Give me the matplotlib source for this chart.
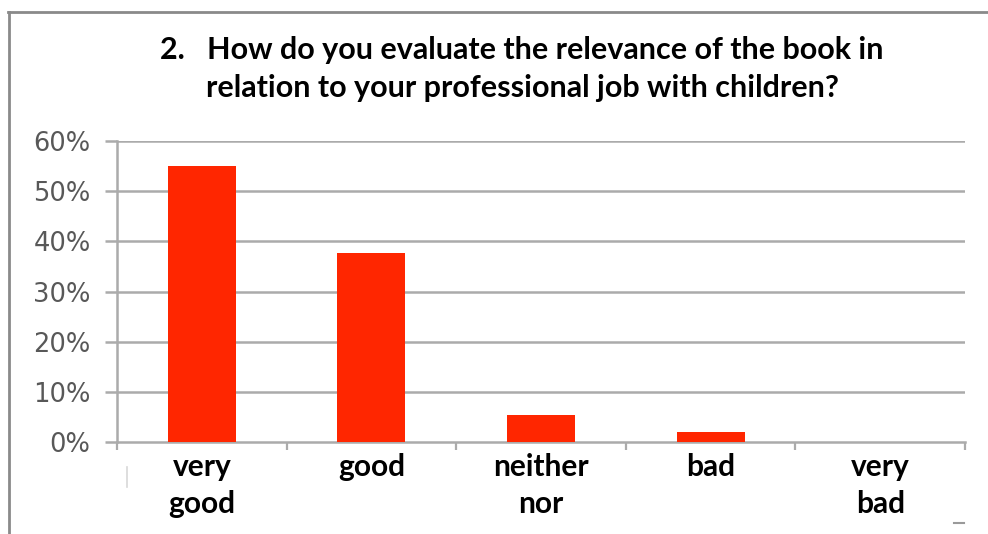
import matplotlib
matplotlib.use("Agg")
import matplotlib.pyplot as plt
from matplotlib.lines import Line2D

categories = ["very\ngood", "good", "neither\nnor", "bad", "very\nbad"]
values = [55.0, 37.7, 5.4, 1.9, 0.0]
yticks = [0, 10, 20, 30, 40, 50, 60]
ytick_labels = ["0%", "10%", "20%", "30%", "40%", "50%", "60%"]
title = "2.   How do you evaluate the relevance of the book in\nrelation to your professional job with children?"

W, H = 988, 534
fig = plt.figure(figsize=(W / 100, H / 100), dpi=100)
fig.patch.set_facecolor("white")

ax = fig.add_axes([117 / W, 1 - 442 / H, (965 - 117) / W, (442 - 141) / H])
x = list(range(len(categories)))
ax.bar(x, values, width=0.4, color="#FF2600", edgecolor="none", zorder=3)

ax.set_xlim(-0.5, len(categories) - 0.5)
ax.set_ylim(0, 60)

grid_c = "#ababab"
ax.set_yticks(yticks)
ax.set_yticklabels(ytick_labels, fontfamily="DejaVu Sans", fontsize=18.5, color="#585858")
ax.tick_params(axis="y", length=9, width=1.8, color=grid_c, pad=10)
for t in yticks[1:]:
    ax.axhline(t, color=grid_c, lw=1.8, zorder=1)

ax.set_xticks([i - 0.5 for i in range(len(categories) + 1)])
ax.set_xticklabels([])
ax.tick_params(axis="x", which="major", length=6, width=1.6, color=grid_c, direction="out")
ax.set_xticks(x, minor=True)
ax.set_xticklabels(categories, minor=True, fontfamily="Lato", fontweight="bold",
                   fontsize=21.5, color="black", linespacing=1.38)
ax.tick_params(axis="x", which="minor", length=0, pad=8)

for s in ["top", "right"]:
    ax.spines[s].set_visible(False)
for s in ["left", "bottom"]:
    ax.spines[s].set_color(grid_c)
    ax.spines[s].set_linewidth(1.8)

fig.text(522 / W, 1 - 69 / H, title, ha="center", va="center", fontfamily="Lato",
         fontweight="bold", fontsize=22, linespacing=1.42, color="black")

# frame lines of the original picture
fig.add_artist(Line2D([8 / W, 1], [1 - 12 / H, 1 - 12 / H], color="#8a8a8a", lw=2))
fig.add_artist(Line2D([9 / W, 9 / W], [0, 1 - 12 / H], color="#8a8a8a", lw=2))
fig.add_artist(Line2D([127 / W, 127 / W], [1 - 487 / H, 1 - 467 / H], color="#d8d8d8", lw=1.2))
fig.add_artist(Line2D([954 / W, 964 / W], [1 - 523 / H, 1 - 523 / H], color="#9a9a9a", lw=1.5))

fig.savefig("out.png", dpi=100)
